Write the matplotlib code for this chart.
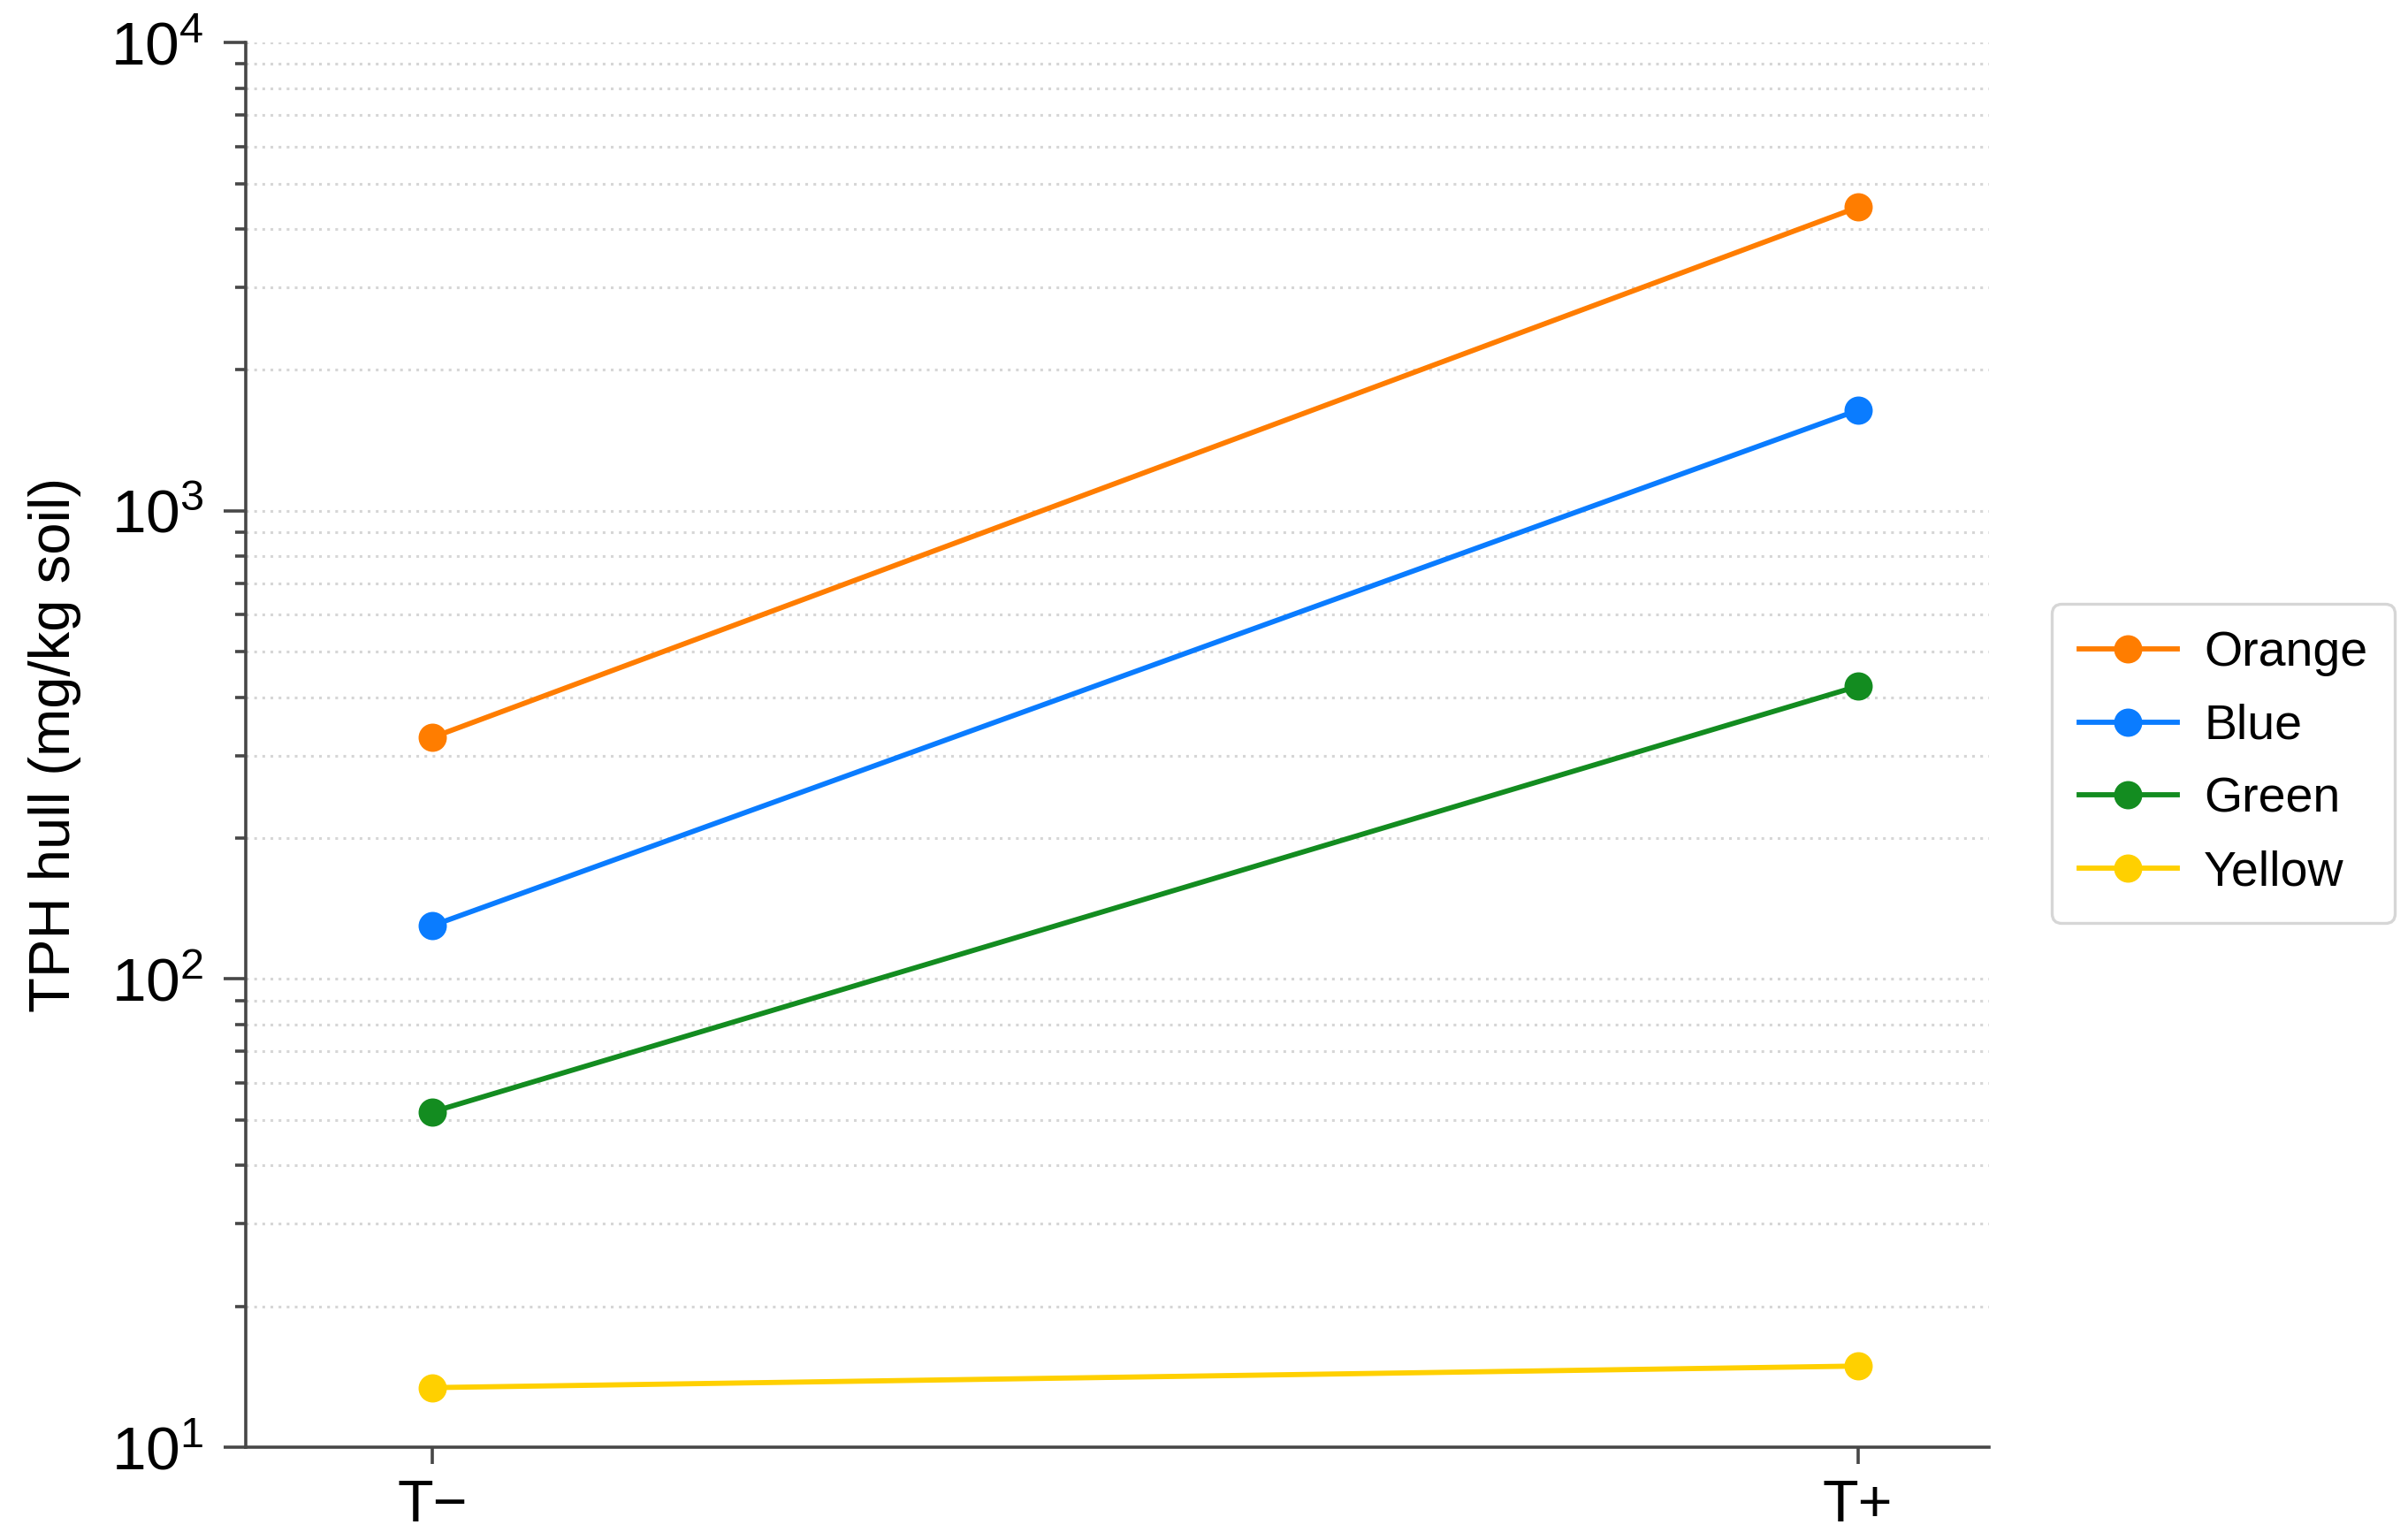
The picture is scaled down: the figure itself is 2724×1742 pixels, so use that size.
import matplotlib
matplotlib.use("Agg")
import matplotlib.pyplot as plt
from matplotlib.ticker import LogLocator, NullFormatter

plt.rcParams['font.family'] = ['Liberation Sans', 'DejaVu Sans']
plt.rcParams['mathtext.fontset'] = 'custom'
plt.rcParams['mathtext.rm'] = 'Liberation Sans'

# Data
timepoints = ['T\u2212', 'T+']
series_names = ['Orange', 'Blue', 'Green', 'Yellow']
orange_vals = [328, 4450]
blue_vals = [130, 1640]
green_vals = [52, 422]
yellow_vals = [13.4, 14.9]
series_colors = ['#FF7D00', '#0A7CFF', '#138C20', '#FFD000']

spine_color = '#474747'

fig = plt.figure(figsize=(13.62, 8.71), dpi=200)
ax = fig.add_axes([0.102, 0.0603, 0.724, 0.912])

x = list(range(len(timepoints)))
for name, vals, col in zip(series_names, [orange_vals, blue_vals, green_vals, yellow_vals], series_colors):
    ax.plot(x, vals, color=col, linewidth=2.1, marker='o', markersize=10.5,
            label=name, zorder=3)

ax.set_yscale('log')
ax.set_ylim(10, 1e4)
ax.set_xlim(-0.131, 1.092)
ax.set_xticks(x)
ax.set_xticklabels(timepoints)

ax.yaxis.set_major_locator(LogLocator(base=10))
ax.yaxis.set_minor_locator(LogLocator(base=10, subs=range(2, 10)))
ax.yaxis.set_minor_formatter(NullFormatter())

# Dotted light grid at major and minor ticks
ax.grid(True, which='both', axis='y', color='#d6d6d6', linestyle=(0, (1, 2)), linewidth=1.1)

for side in ['top', 'right']:
    ax.spines[side].set_visible(False)
for side in ['left', 'bottom']:
    ax.spines[side].set_color(spine_color)
    ax.spines[side].set_linewidth(1.3)

ax.tick_params(axis='y', which='major', length=9, width=1.3, color=spine_color,
               labelsize=25, pad=8)
ax.tick_params(axis='y', which='minor', length=4.5, width=1.3, color=spine_color)
ax.tick_params(axis='x', which='major', length=7, width=1.3, color=spine_color,
               labelsize=24, pad=6)

ax.set_ylabel('TPH hull (mg/kg soil)', fontsize=23.5, labelpad=12)

leg = ax.legend(loc='center left', bbox_to_anchor=(1.036, 0.487), fontsize=20,
                frameon=True, fancybox=True, edgecolor='#cccccc', handlelength=2.0,
                borderpad=0.55, labelspacing=0.55, handletextpad=0.55,
                borderaxespad=0)
leg.get_frame().set_linewidth(1.2)

fig.savefig('out.png', dpi=200, facecolor='white')
